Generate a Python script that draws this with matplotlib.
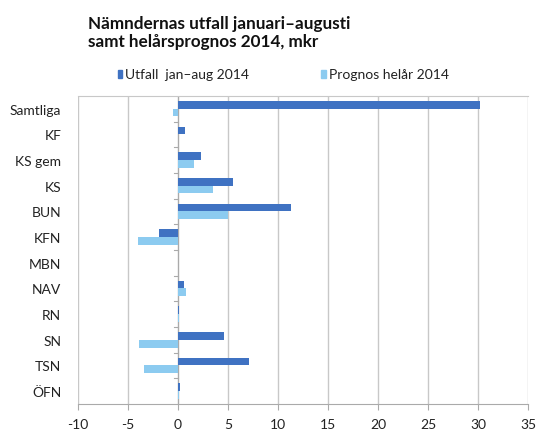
import matplotlib
matplotlib.use("Agg")
import matplotlib.pyplot as plt
import numpy as np

plt.rcParams['font.family'] = ['Lato', 'DejaVu Sans']

categories = ["Samtliga", "KF", "KS gem", "KS", "BUN", "KFN", "MBN", "NAV", "RN", "SN", "TSN", "ÖFN"]
utfall = [30.2, 0.7, 2.3, 5.5, 11.3, -1.9, 0.0, 0.6, 0.1, 4.6, 7.1, 0.2]
prognos = [-0.5, 0.0, 1.6, 3.5, 5.0, -4.0, 0.0, 0.8, 0.05, -3.9, -3.4, 0.1]
xticks = [-10, -5, 0, 5, 10, 15, 20, 25, 30, 35]

dark = "#3f72c2"
light = "#8ccbf0"

fig = plt.figure(figsize=(5.39, 4.31), dpi=100)
ax = fig.add_axes([0.1447, 0.0603, 0.835, 0.715])

y = np.arange(len(categories))
h = 0.3
ax.barh(y - h / 2, utfall, height=h, color=dark, zorder=3)
ax.barh(y + h / 2, prognos, height=h, color=light, zorder=3)

ax.set_xlim(-10, 35)
ax.set_ylim(len(categories) - 0.5, -0.5)
ax.set_xticks(xticks)
ax.set_xticklabels([str(t) for t in xticks], fontsize=10, color="#222222")
ax.set_yticks(y)
ax.set_yticklabels(categories, fontsize=10, color="#222222")
ax.tick_params(axis='y', length=0, pad=12)
ax.tick_params(axis='x', length=4, color="#aaaaaa", pad=6, direction='out')
ax.grid(axis='x', color="#c8c8c8", linewidth=1, zorder=0)

for s in ['left', 'right', 'top']:
    ax.spines[s].set_visible(False)
ax.spines['top'].set_visible(True)
ax.spines['top'].set_color("#c8c8c8")
ax.spines['bottom'].set_color("#aaaaaa")

# y-axis line at zero with category boundary ticks
ax.axvline(0, color="#aaaaaa", linewidth=0.8, zorder=2)
for b in np.arange(0.5, len(categories) - 0.5, 1):
    ax.plot([-0.4, 0], [b, b], color="#aaaaaa", linewidth=0.8, zorder=2)

fig.text(0.163, 0.962, "Nämndernas utfall januari–augusti\nsamt helårsprognos 2014, mkr",
         fontsize=12.3, fontweight='bold', ha='left', va='top', color="#111111", linespacing=1.1)

# legend
fig.patches.append(plt.Rectangle((0.218, 0.817), 0.008, 0.018, color=dark, transform=fig.transFigure, figure=fig))
fig.text(0.232, 0.826, "Utfall  jan–aug 2014", fontsize=10, va='center', ha='left', color="#222222")
fig.patches.append(plt.Rectangle((0.596, 0.817), 0.008, 0.018, color=light, transform=fig.transFigure, figure=fig))
fig.text(0.610, 0.826, "Prognos helår 2014", fontsize=10, va='center', ha='left', color="#222222")

fig.savefig("out.png", dpi=100)
